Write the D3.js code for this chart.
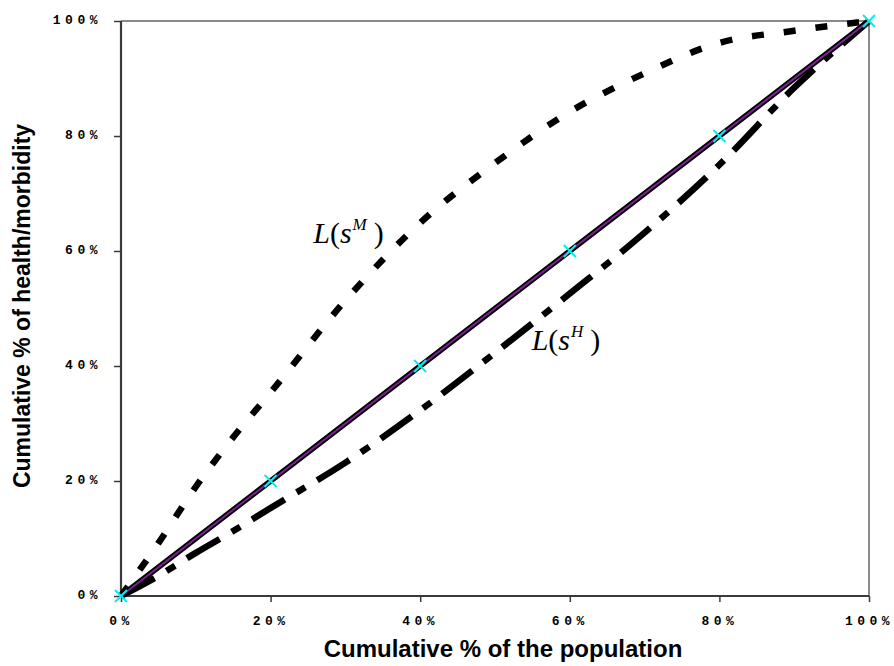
<!DOCTYPE html>
<html>
<head>
<meta charset="utf-8">
<script src="https://cdn.jsdelivr.net/npm/d3@7"></script>
<style>
 body{margin:0;background:#fff;}
 .tick text{font-family:"Liberation Mono",monospace;font-weight:bold;font-size:13px;letter-spacing:4.5px;fill:#000;}
 .title{font-family:"Liberation Sans",Arial,sans-serif;font-weight:bold;fill:#000;}
 .lab{font-family:"Liberation Serif","Times New Roman",serif;font-size:30px;fill:#000;}
</style>
</head>
<body>
<div id="chart"></div>
<script>
// data
const popShare = [0, 0.05, 0.1, 0.15, 0.2, 0.3, 0.4, 0.5, 0.6, 0.7, 0.8, 0.9, 1];
const morbidityShare = [0, 0.092, 0.19, 0.276, 0.354, 0.514, 0.649, 0.753, 0.842, 0.909, 0.962, 0.983, 1];
const healthShare = [0, 0.035, 0.075, 0.113, 0.153, 0.232, 0.323, 0.423, 0.526, 0.632, 0.75, 0.884, 1];
const equalityPts = [0, 0.2, 0.4, 0.6, 0.8, 1];
const tickVals = [0, 0.2, 0.4, 0.6, 0.8, 1];

function init(){
    var w = 894, h = 666;
    var svg = d3.select("#chart").append("svg")
        .attr("width", w)
        .attr("height", h);

    var left = 121, right = 869, top = 21, bottom = 596;

    var x = d3.scaleLinear().domain([0, 1]).range([left, right]);
    var y = d3.scaleLinear().domain([0, 1]).range([bottom, top]);

    // frame: gray top/right
    svg.append("path")
        .attr("d", `M${left},${top}H${right}V${bottom}`)
        .attr("fill", "none")
        .attr("stroke", "#8a8a8a")
        .attr("stroke-width", 2);

    // axes
    var yAxis = svg.append("g")
        .attr("transform", `translate(${left},0)`)
        .call(d3.axisLeft(y).tickValues(tickVals).tickFormat(d3.format(".0%")).tickSize(7).tickPadding(12));
    yAxis.selectAll("text").attr("dy", "0.22em");

    var xAxis = svg.append("g")
        .attr("transform", `translate(0,${bottom})`)
        .call(d3.axisBottom(x).tickValues(tickVals).tickFormat(d3.format(".0%")).tickSize(6).tickPadding(13.5));

    svg.selectAll(".domain").attr("stroke", "#3a3a3a").attr("stroke-width", 2.2);
    svg.selectAll(".tick line").attr("stroke", "#3a3a3a").attr("stroke-width", 1.5);
    yAxis.select(".domain").attr("d", `M-0,${top}V${bottom}`);
    xAxis.select(".domain").attr("d", `M${left},0H${right}`);

    var line = d3.line()
        .x(d => x(d[0]))
        .y(d => y(d[1]))
        .curve(d3.curveMonotoneX);

    // L(s^M) - short dashes
    svg.append("path")
        .datum(popShare.map((p, i) => [p, morbidityShare[i]]))
        .attr("d", line)
        .attr("fill", "none")
        .attr("stroke", "#000")
        .attr("stroke-width", 6.5)
        .attr("stroke-dasharray", "12,20");

    // L(s^H) - long dash dot
    svg.append("path")
        .datum(popShare.map((p, i) => [p, healthShare[i]]))
        .attr("d", line)
        .attr("fill", "none")
        .attr("stroke", "#000")
        .attr("stroke-width", 6.5)
        .attr("stroke-dasharray", "38,14,10,14");

    // line of equality
    var eq = equalityPts.map(p => [p, p]);
    var straight = d3.line().x(d => x(d[0])).y(d => y(d[1]));
    svg.append("path").datum(eq).attr("d", straight)
        .attr("fill", "none").attr("stroke", "#000").attr("stroke-width", 5.5);
    svg.append("path").datum(eq).attr("d", straight)
        .attr("fill", "none").attr("stroke", "#82209a").attr("stroke-width", 1.8);

    // cyan x markers
    var s = 6;
    svg.selectAll(".mk")
        .data(equalityPts)
        .enter()
        .append("path")
        .attr("class", "mk")
        .attr("d", d => `M${x(d)-s},${y(d)-s}L${x(d)+s},${y(d)+s}M${x(d)-s},${y(d)+s}L${x(d)+s},${y(d)-s}`)
        .attr("stroke", "#00f0f0")
        .attr("stroke-width", 2);

    // curve labels
    function curveLabel(px, py, sup){
        var t = svg.append("text").attr("class", "lab")
            .attr("x", x(px)).attr("y", y(py));
        t.append("tspan").attr("font-style", "italic").text("L");
        t.append("tspan").text("(");
        t.append("tspan").attr("font-style", "italic").text("s");
        t.append("tspan").attr("font-style", "italic").attr("font-size", "17px").attr("dy", -13).attr("dx", 1).text(sup);
        t.append("tspan").attr("dy", 13).attr("dx", 7).text(")");
    }
    curveLabel(0.257, 0.614, "M");
    curveLabel(0.549, 0.428, "H");

    // axis titles
    svg.append("text").attr("class", "title")
        .attr("x", 503)
        .attr("y", 657)
        .attr("font-size", "24px")
        .attr("text-anchor", "middle")
        .text("Cumulative % of the population");

    svg.append("text").attr("class", "title")
        .attr("transform", `translate(30,306) rotate(-90)`)
        .attr("font-size", "23px")
        .attr("text-anchor", "middle")
        .text("Cumulative % of health/morbidity");
}
window.onload = init;
</script>
</body>
</html>
